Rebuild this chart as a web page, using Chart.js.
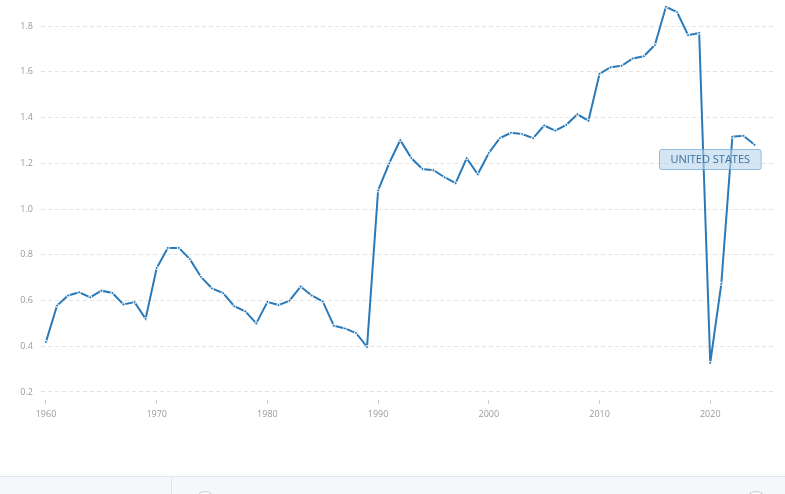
<!DOCTYPE html>
<html>
<head>
<meta charset="utf-8">
<script src="https://cdn.jsdelivr.net/npm/chart.js@4/dist/chart.umd.min.js"></script>
<style>
  html, body { margin: 0; padding: 0; background: #fff; }
  #wrap { position: relative; width: 785px; height: 494px; overflow: hidden; }
  #chartBox { position: absolute; left: 0; top: 0; width: 785px; height: 476px; }
  #panel { position: absolute; left: 0; top: 476px; width: 785px; height: 18px;
           background: #f4f8fb; border-top: 1px solid #e2e6ea; }
  #divider { position: absolute; left: 171px; top: 0; width: 1px; height: 18px; background: #e2e6ea; }
  .circ { position: absolute; top: 14px; width: 18px; height: 18px; border: 1px solid #c9c9c9;
          border-radius: 50%; background: #fff; }
</style>
</head>
<body>
<div id="wrap">
  <div id="chartBox"><canvas id="chart"></canvas></div>
  <div id="panel">
    <div id="divider"></div>
    <div class="circ" style="left:195px"></div>
    <div class="circ" style="left:746px"></div>
  </div>
</div>
<script>
const years = [
  1960, 1961, 1962, 1963, 1964, 1965, 1966, 1967, 1968, 1969,
  1970, 1971, 1972, 1973, 1974, 1975, 1976, 1977, 1978, 1979,
  1980, 1981, 1982, 1983, 1984, 1985, 1986, 1987, 1988, 1989,
  1990, 1991, 1992, 1993, 1994, 1995, 1996, 1997, 1998, 1999,
  2000, 2001, 2002, 2003, 2004, 2005, 2006, 2007, 2008, 2009,
  2010, 2011, 2012, 2013, 2014, 2015, 2016, 2017, 2018, 2019,
  2020, 2021, 2022, 2023, 2024
];
const usValues = [
  0.419, 0.578, 0.622, 0.636, 0.614, 0.643, 0.633, 0.583, 0.593, 0.520,
  0.742, 0.830, 0.830, 0.781, 0.703, 0.653, 0.632, 0.575, 0.553, 0.500,
  0.594, 0.580, 0.599, 0.661, 0.622, 0.596, 0.490, 0.478, 0.458, 0.397,
  1.081, 1.200, 1.301, 1.223, 1.175, 1.170, 1.139, 1.113, 1.222, 1.152,
  1.245, 1.310, 1.333, 1.328, 1.310, 1.365, 1.343, 1.368, 1.414, 1.386,
  1.591, 1.620, 1.626, 1.658, 1.668, 1.717, 1.884, 1.861, 1.760, 1.770,
  0.327, 0.673, 1.316, 1.320, 1.281
];
const yTicks = [0.2, 0.4, 0.6, 0.8, 1.0, 1.2, 1.4, 1.6, 1.8];
const xTicks = [1960, 1970, 1980, 1990, 2000, 2010, 2020];
const seriesName = "UNITED STATES";

const blue = "#2a7ab9";
const tickFont = { family: "'Open Sans', sans-serif", size: 9 };

// series label box like the original one
const seriesLabel = {
  id: "seriesLabel",
  afterDatasetsDraw(chart) {
    const ctx = chart.ctx;
    const cx = chart.scales.x.getPixelForValue(2020);
    const cy = chart.scales.y.getPixelForValue(1.218);
    ctx.save();
    ctx.font = "11px 'Open Sans', sans-serif";
    const w = ctx.measureText(seriesName).width + 22;
    const h = 20;
    const x0 = Math.round(cx - w / 2), y0 = Math.round(cy - h / 2);
    ctx.beginPath();
    ctx.roundRect(x0 + 0.5, y0 + 0.5, w, h, 2);
    ctx.fillStyle = "rgba(183, 212, 235, 0.6)";
    ctx.fill();
    ctx.strokeStyle = "rgba(110, 165, 210, 0.7)";
    ctx.lineWidth = 1;
    ctx.stroke();
    ctx.fillStyle = "#3d6f9e";
    ctx.textAlign = "center";
    ctx.textBaseline = "middle";
    ctx.fillText(seriesName, cx, cy + 1);
    ctx.restore();
  }
};

function noEdgePadding(axis) {
  axis.paddingTop = 0;
  axis.paddingBottom = 0;
  axis.paddingLeft = 0;
  axis.paddingRight = 0;
}

new Chart(document.getElementById("chart"), {
  type: "line",
  data: {
    datasets: [{
      label: seriesName,
      data: years.map((yr, i) => ({ x: yr, y: usValues[i] })),
      borderColor: blue,
      borderWidth: 2,
      backgroundColor: blue,
      pointRadius: 1.5,
      pointBorderWidth: 1,
      pointBorderColor: "#fff",
      pointBackgroundColor: blue,
      tension: 0,
      clip: 6
    }]
  },
  options: {
    animation: false,
    responsive: true,
    maintainAspectRatio: false,
    layout: { padding: { left: 0, right: 10, top: 0, bottom: 0 } },
    plugins: { legend: { display: false }, tooltip: { enabled: false } },
    scales: {
      x: {
        type: "linear",
        min: 1959.55,
        max: 2025.85,
        afterBuildTicks: axis => { axis.ticks = xTicks.map(v => ({ value: v })); },
        afterFit: axis => { axis.height = 76; noEdgePadding(axis); },
        grid: { drawOnChartArea: false, drawTicks: true, tickLength: 4, color: "#cfcfcf" },
        border: { display: false },
        ticks: { autoSkip: false, maxRotation: 0, padding: 5, color: "#9a9a9a", font: tickFont,
                 callback: v => String(v) }
      },
      y: {
        min: 0.165,
        max: 1.892,
        afterBuildTicks: axis => { axis.ticks = yTicks.map(v => ({ value: v })); },
        afterFit: axis => { axis.width = 41; noEdgePadding(axis); },
        grid: { drawTicks: false, color: "#e3e3e3", lineWidth: 1 },
        border: { display: false, dash: [4, 3] },
        ticks: { padding: 8, color: "#9a9a9a", font: tickFont, callback: v => v.toFixed(1) }
      }
    }
  },
  plugins: [seriesLabel]
});
</script>
</body>
</html>
